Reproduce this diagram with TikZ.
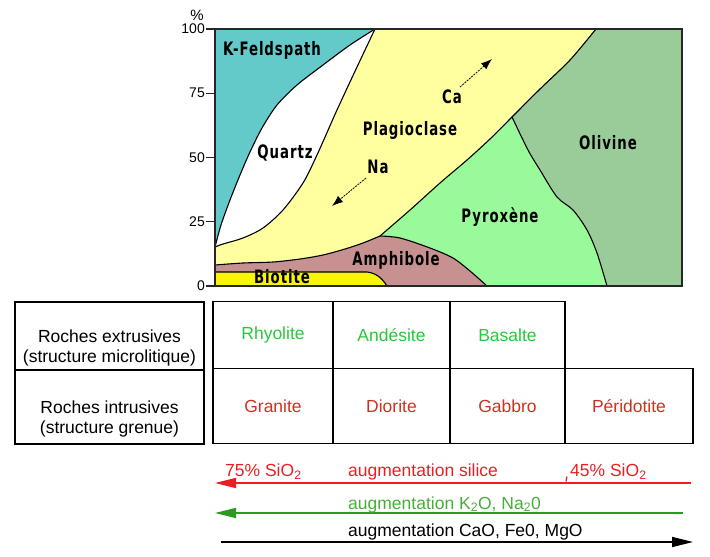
\documentclass[tikz,border=0pt]{standalone}
\usepackage{fontspec}
\setmainfont{Liberation Sans}
\newfontfamily\chartfont[FakeStretch=0.72,LetterSpace=5]{DejaVu Sans}
\usetikzlibrary{arrows.meta, positioning}
\definecolor{kfeld}{RGB}{99,201,201}
\definecolor{plag}{RGB}{255,255,160}
\definecolor{amph}{RGB}{200,145,145}
\definecolor{biot}{RGB}{248,245,10}
\definecolor{pyrox}{RGB}{152,250,152}
\definecolor{oliv}{RGB}{153,204,153}
\definecolor{extgreen}{RGB}{40,200,60}
\definecolor{intred}{RGB}{205,50,30}
\definecolor{sired}{RGB}{235,30,35}
\definecolor{kgreen}{RGB}{45,155,35}
\definecolor{ktext}{RGB}{70,175,55}

\begin{document}
\begin{tikzpicture}[x=1pt, y=-1pt,
        m/.style={font=\chartfont\bfseries\fontsize{18.5}{18.5}\selectfont, inner sep=1pt},
        tk/.style={font=\fontsize{14}{14}\selectfont, inner sep=1pt},
        b/.style={line width=1.1pt},
        fr/.style={line width=1.4pt, black!85},
        cell/.style={draw, line width=1.2pt, outer sep=0pt, inner sep=2pt, font=\fontsize{17.5}{19.5}\selectfont},
        extr/.style={cell, minimum height=67, text=extgreen},
        intr/.style={cell, minimum height=75, text=intred},
        lbl/.style={inner sep=0pt, anchor=base west, font=\fontsize{17.5}{19.5}\selectfont},
        e/.style={line width=1.7pt, -{Triangle[length=21pt,width=10pt]}},
        ar/.style={line width=0.8pt, dash pattern=on 2pt off 1pt, -{Latex[length=11pt,width=8pt]}}]
        \useasboundingbox (0,0) rectangle (710,557);

        \fill[plag] (215,29) rectangle (682,286);
        \fill[kfeld] (215,29) -- (375,29) -- plot[smooth] coordinates {(375,29) (350,45) (323,65) (297,85) (277,105) (262,128) (250,152) (240,175) (230,200) (221,225) (215,247)} -- cycle;
        \fill[white] plot[smooth] coordinates {(215,247) (221,225) (230,200) (240,175) (250,152) (262,128) (277,105) (297,85) (323,65) (350,45) (375,29)}
          -- plot[smooth] coordinates {(375,29) (357,67) (337,110) (317,155) (303,183) (283,210) (263,228) (243,238) (223,244) (215,247)} -- cycle;
        \fill[pyrox] plot[smooth] coordinates {(380,236) (410,210) (440,183) (467,160) (490,139) (512,117) (540,89) (570,60) (596,29)} -- (682,29) -- (682,286) -- (487,286)
          -- plot[smooth] coordinates {(487,286) (470,271) (453,258) (430,248) (400,238) (380,236)} -- cycle;
        \fill[oliv] plot[smooth] coordinates {(512,117) (528,150) (540,170) (557,197) (573,210) (587,230) (597,253) (607,286)} -- (682,286) -- (682,29) -- (596,29)
          -- plot[smooth] coordinates {(596,29) (570,60) (540,89) (512,117)} -- cycle;
        \fill[amph] plot[smooth] coordinates {(215,265) (243,263) (273,262) (300,259) (323,255) (345,249) (363,243) (380,236)}
          -- plot[smooth] coordinates {(380,236) (400,238) (430,248) (453,258) (470,271) (487,286)} -- (215,286) -- cycle;
        \fill[biot] (215,272) -- (367,272) .. controls (376,273) and (382,278) .. (387,286) -- (215,286) -- cycle;

        \draw[b] plot[smooth] coordinates {(215,247) (221,225) (230,200) (240,175) (250,152) (262,128) (277,105) (297,85) (323,65) (350,45) (375,29)};
        \draw[b] plot[smooth] coordinates {(375,29) (357,67) (337,110) (317,155) (303,183) (283,210) (263,228) (243,238) (223,244) (215,247)};
        \draw[b] plot[smooth] coordinates {(380,236) (410,210) (440,183) (467,160) (490,139) (512,117) (540,89) (570,60) (596,29)};
        \draw[b] plot[smooth] coordinates {(512,117) (528,150) (540,170) (557,197) (573,210) (587,230) (597,253) (607,286)};
        \draw[b] plot[smooth] coordinates {(215,265) (243,263) (273,262) (300,259) (323,255) (345,249) (363,243) (380,236)};
        \draw[b] plot[smooth] coordinates {(380,236) (400,238) (430,248) (453,258) (470,271) (487,286)};
        \draw[b] (215,272) -- (367,272) .. controls (376,273) and (382,278) .. (387,286);
        \draw[fr] (215,29) rectangle (682,286);

        \foreach \v in {0,25,50,75,100}
        {\node[tk, anchor=east] (y\v) at (206,{286-2.57*\v}) {\v};
         \draw[fr] (y\v.east) -- ++(9,0);}
        \node[tk, font=\fontsize{15}{15}\selectfont] (pc) at (197,15) {\%};

        \foreach \t/\x/\y in {K-Feldspath/272/50, Quartz/285/153, Plagioclase/410/130, Na/378/167, Ca/452/97,
          Olivine/608/143, Pyroxène/500/217, Amphibole/396/260, Biotite/282/277}
        \node[m] (\t) at (\x,\y) {\t};
        \coordinate (ca0) at (460,87); \coordinate (ca1) at (492,59);
        \coordinate (na0) at (366,178); \coordinate (na1) at (332,206);
        \draw[ar] (ca0) -- (ca1);
        \draw[ar] (na0) -- (na1);

        \node[cell, minimum width=189, minimum height=68] (rx) at (109.5,336) {};
        \node[cell, minimum width=189, minimum height=74, below=0 of rx] (ri) {};
        \node[cell, draw=none, align=center] (rxt) at (109.5,348) {Roches extrusives\\(structure microlitique)};
        \node[cell, draw=none, align=center] (rit) at (109.5,419) {Roches intrusives\\(structure grenue)};

        \node[extr, minimum width=120] (e1) at (273,335) {Rhyolite};
        \foreach \t/\w [count=\i from 2, evaluate=\i as \j using int(\i-1)] in {Andésite/117, Basalte/115}
        \node[extr, minimum width=\w, right=0 of e\j] (e\i) {\t};
        \node[intr, minimum width=120, below=0 of e1] (g1) {Granite};
        \foreach \t/\w [count=\i from 2, evaluate=\i as \j using int(\i-1)] in {Diorite/117, Gabbro/115, Péridotite/128}
        \node[intr, minimum width=\w, right=0 of g\j] (g\i) {\t};

        \coordinate (s0) at (691,483); \coordinate (s1) at (215,483);
        \coordinate (k0) at (683,513); \coordinate (k1) at (215,513);
        \coordinate (c0) at (221,542); \coordinate (c1) at (693,542);
        \coordinate (s45) at (567,476.5);
        \draw[e, sired] (s0) -- (s1);
        \draw[e, kgreen] (k0) -- (k1);
        \draw[e, black] (c0) -- (c1);
        \draw[sired, line width=1.2pt] (s45) -- ++(-1,5);
        \node[lbl, text=sired] (si75) at (225,476.5) {75\% SiO\textsubscript{2}};
        \node[lbl, text=sired] (si) at (348,476.5) {augmentation silice};
        \node[lbl, text=sired] (si45) at (570,476.5) {45\% SiO\textsubscript{2}};
        \node[lbl, text=ktext] (kna) at (348,509) {augmentation K\textsubscript{2}O, Na\textsubscript{2}0};
        \node[lbl] (cfm) at (348,536) {augmentation CaO, Fe0, MgO};
      \end{tikzpicture}
\end{document}
